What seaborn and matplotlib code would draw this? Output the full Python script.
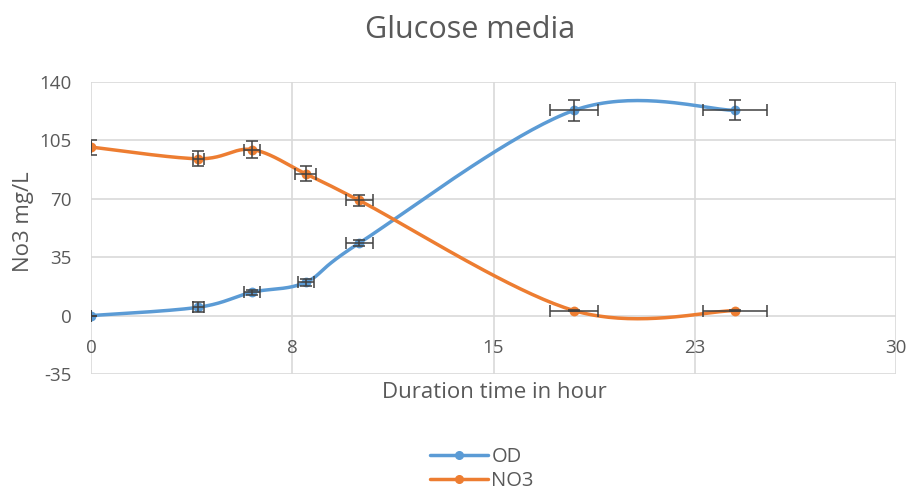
import numpy as np
import pandas as pd
import matplotlib
matplotlib.use("Agg")
import matplotlib.pyplot as plt
import seaborn as sns
from matplotlib.lines import Line2D
from matplotlib.ticker import FixedLocator, FixedFormatter

# ---- data ----
hours = [0, 4, 6, 8, 10, 18, 24]
od = [0, 5, 14, 20, 43.5, 123, 123]
no3 = [101, 94, 99.5, 85, 69, 3, 3]
od_xerr = [0, 0.2, 0.3, 0.3, 0.5, 0.9, 1.2]
od_yerr = [0, 3, 1.5, 2, 2, 6.5, 6]
no3_xerr = [0, 0.2, 0.3, 0.4, 0.5, 0.9, 1.2]
no3_yerr = [4.5, 4.5, 5, 4.5, 3.5, 0.5, 0.5]
x_tick_values = [0, 7.5, 15, 22.5, 30]
x_tick_labels = ["0", "8", "15", "23", "30"]
y_ticks = [-35, 0, 35, 70, 105, 140]
series_names = ["OD", "NO3"]

BLUE = "#5B9BD5"
ORANGE = "#ED7D31"
GRID = "#D9D9D9"
TXT = "#595959"


def smooth(xs, ys, n=40):
    """Excel-like smoothed line (Catmull-Rom Bezier) through data points."""
    P = np.column_stack([xs, ys]).astype(float)
    m = len(P)
    out = []
    for i in range(m - 1):
        p0 = P[i - 1] if i > 0 else P[i]
        p1 = P[i]
        p2 = P[i + 1]
        p3 = P[i + 2] if i + 2 < m else P[i + 1]
        c1 = p1 + (p2 - p0) / 6.0
        c2 = p2 - (p3 - p1) / 6.0
        t = np.linspace(0, 1, n, endpoint=(i == m - 2))[:, None]
        b = ((1 - t) ** 3) * p1 + 3 * ((1 - t) ** 2) * t * c1 + 3 * (1 - t) * t ** 2 * c2 + t ** 3 * p2
        out.append(b)
    return np.vstack(out)


sns.set_style("white")
plt.rcParams["font.family"] = ["Open Sans", "DejaVu Sans"]
plt.rcParams["axes.unicode_minus"] = False

fig = plt.figure(figsize=(9.09, 4.93), dpi=100)
W, H = 909, 493
ax = fig.add_axes([91 / W, 1 - 374 / H, (896 - 91) / W, (374 - 82) / H])

for ys, xe, ye, col in [(od, od_xerr, od_yerr, BLUE), (no3, no3_xerr, no3_yerr, ORANGE)]:
    c = smooth(hours, ys)
    df = pd.DataFrame({"x": c[:, 0], "y": c[:, 1]})
    sns.lineplot(data=df, x="x", y="y", sort=False, estimator=None, color=col,
                 linewidth=2.5, ax=ax, zorder=3)
    sns.scatterplot(x=hours, y=ys, color=col, s=50, edgecolor=col, linewidth=0,
                    ax=ax, zorder=4)
    ax.errorbar(hours, ys, xerr=xe, yerr=ye, fmt="none", ecolor="#404040",
                elinewidth=1.1, capsize=4, capthick=1.1, zorder=5)

ax.set_xlim(0, 30)
ax.set_ylim(-35, 140)
ax.xaxis.set_major_locator(FixedLocator(x_tick_values))
ax.xaxis.set_major_formatter(FixedFormatter(x_tick_labels))
ax.set_yticks(y_ticks)
ax.grid(True, color=GRID, linewidth=1.2, zorder=0)
ax.set_axisbelow(True)
for s in ["top", "right", "left"]:
    ax.spines[s].set_visible(False)
ax.spines["bottom"].set_position(("data", 0))
ax.spines["bottom"].set_visible(False)
ax.tick_params(axis="x", length=0, pad=17, labelsize=13.5, labelcolor=TXT)
ax.tick_params(axis="y", length=0, pad=14, labelsize=13.5, labelcolor=TXT)
ax.set_xlabel("")
ax.set_ylabel("")

fig.text(470 / W, 1 - 30 / H, "Glucose media", ha="center", va="center",
         fontsize=22, color=TXT)
fig.text(494 / W, 1 - 393 / H, "Duration time in hour", ha="center", va="center",
         fontsize=16, color=TXT)
fig.text(24 / W, 1 - 222 / H, "No3 mg/L", ha="center", va="center",
         rotation=90, fontsize=16, color=TXT)

handles = [Line2D([], [], color=BLUE, lw=2.5, marker="o", markersize=5.5),
           Line2D([], [], color=ORANGE, lw=2.5, marker="o", markersize=5.5)]
leg = fig.legend(handles, series_names, loc="center left",
                 bbox_to_anchor=(430 / W, 1 - 469 / H), ncol=1, frameon=False,
                 fontsize=14.5, handlelength=2.9, handletextpad=0.15,
                 labelspacing=0.2, borderpad=0, borderaxespad=0)
for t in leg.get_texts():
    t.set_color(TXT)

fig.savefig("out.png", dpi=100)
